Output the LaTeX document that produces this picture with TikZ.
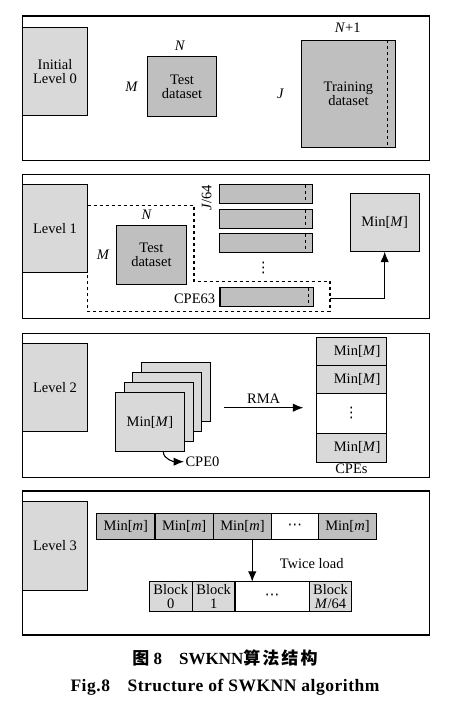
\documentclass[tikz,border=0pt]{standalone}
\usepackage{fontspec}
\setmainfont{Liberation Serif}
\newfontfamily\cjk{Noto Sans CJK SC}[LetterSpace=12]
\newfontfamily\dotsfont{DejaVu Sans}
\usetikzlibrary{arrows.meta,positioning}
\definecolor{lvlgray}{HTML}{D9D9D9}
\definecolor{datagray}{HTML}{BFBFBF}

\begin{document}
\begin{tikzpicture}[x=1pt, y=-1pt, line width=1.1pt,
  font=\fontsize{14.5}{14}\selectfont,
  panel/.style={draw, line width=1.1pt},
  lvlbox/.style={draw, fill=lvlgray, minimum width=65.4pt, minimum height=88.4pt, align=center, inner sep=0pt, outer sep=0pt},
  datbox/.style={draw, fill=datagray, align=center, inner sep=0pt, outer sep=0pt},
  bar/.style={draw, fill=datagray, minimum width=93.4pt, minimum height=19pt, inner sep=0pt, outer sep=0pt},
  cell/.style={draw, fill=lvlgray, outer sep=0pt, inner sep=0pt, align=center},
  lbl/.style={inner sep=1pt},
  arrow/.style={-{Latex[length=10.5pt,width=8.5pt]}, line width=1.1pt}
]
\useasboundingbox (0,0) rectangle (455,704);

% Level 0
\draw[panel] (22.3,16) rectangle (429.3,160.7);
\node[lvlbox, anchor=north west] (lv0) at (22.3,27.3) {Initial\\Level 0};
\node[datbox, minimum width=69.4pt, minimum height=59.3pt] (test0) at (182,86.4) {Test\\dataset};
\node[lbl] (n0) at (180,46) {\textit{N}};
\node[lbl] (m0) at (131.7,87) {\textit{M}};
\node[datbox, minimum width=93.3pt, minimum height=107pt] (train) at (348.4,93.8) {Training\\dataset};
\draw[dashed] ([xshift=-7.3pt]train.north east) -- ([xshift=-7.3pt]train.south east);
\node[lbl] (n1) at (347.7,27.3) {\textit{N}+1};
\node[lbl] (j0) at (280.7,94.3) {\textit{J}};

% Level 1
\draw[panel] (22.3,174.3) rectangle (429.3,318.3);
\node[lvlbox, anchor=north west] (lv1) at (22.3,184.3) {Level 1};
\draw[dashed] (87.7,205.7) -- (194,205.7) -- (194,281.7) -- (330,281.7) -- (330,311.7) -- (87.7,311.7) -- cycle;
\node[lbl] (n2) at (146.7,215) {\textit{N}};
\node[lbl] (m2) at (103.3,254.3) {\textit{M}};
\node[datbox, minimum width=69.3pt, minimum height=58.6pt] (test1) at (151.4,255) {Test\\dataset};
\foreach \i/\y in {1/194.3, 2/219.2, 3/243.2} {
  \node[bar] (b\i) at (266,\y) {};
  \draw[dashed] ([xshift=-7pt]b\i.north east) -- ([xshift=-7pt]b\i.south east);
}
\node[bar] (b63) at (266.7,297) {};
\draw[dashed] ([xshift=-5pt]b63.north east) -- ([xshift=-5pt]b63.south east);
\node[lbl] (dots1) at (263.3,268.3) {\dotsfont ⋮};
\node[lbl, rotate=90] (j1) at (206.7,198) {\textit{J}/64};
\node[lbl, anchor=east] (cpe63) at (216.7,298.3) {CPE63};
\node[cell, minimum width=69.3pt, minimum height=58.4pt] (minM) at (384.7,222.5) {Min[\textit{M}]};
\coordinate (reg) at (330,298.3);
\draw[arrow] (reg) -| (minM);

% Level 2
\draw[panel] (22.3,333.3) rectangle (429.3,477.7);
\node[lvlbox, anchor=north west] (lv2) at (22.3,343.3) {Level 2};
\foreach \k in {3,2,1}
  \node[cell, minimum width=69pt, minimum height=59pt] (s\k) at (150+8.7*\k,422.2-10*\k) {};
\node[cell, minimum width=69pt, minimum height=59pt] (s0) at (150,422.2) {Min[\textit{M}]};
\node[lbl, anchor=west] (cpe0) at (184,461.7) {CPE0};
\draw[arrow] ([xshift=13.3pt]s0.south) .. controls +(0,8) and +(-9,0) .. (cpe0.west);
\coordinate (rmaS) at (224,407.7);
\coordinate (rmaE) at (303.3,407.7);
\draw[arrow] (rmaS) -- node[lbl, above=3pt] (rma) {RMA} (rmaE);
\node[cell, minimum width=69.3pt, minimum height=27.3pt, text width=58pt, align=right] (c1) at (351.4,351.4) {Min[\textit{M}]};
\node[cell, minimum width=69.3pt, minimum height=28.3pt, text width=58pt, align=right, below=0pt of c1] (c2) {Min[\textit{M}]};
\node[cell, fill=white, minimum width=69.3pt, minimum height=40pt, below=0pt of c2] (c3) {\dotsfont ⋮};
\node[cell, minimum width=69.3pt, minimum height=29pt, text width=58pt, align=right, below=0pt of c3] (c4) {Min[\textit{M}]};
\node[lbl, below=0pt of c4] (cpes) {CPEs};

% Level 3
\draw[panel] (22.3,491) rectangle (429.3,635);
\node[lvlbox, anchor=north west] (lv3) at (22.3,501.7) {Level 3};
\node[cell, fill=datagray, minimum width=58.3pt, minimum height=26pt, anchor=west] (m1) at (96.7,526.3) {Min[\textit{m}]};
\node[cell, fill=datagray, minimum width=58.3pt, minimum height=26pt, right=0pt of m1] (m2) {Min[\textit{m}]};
\node[cell, fill=datagray, minimum width=58.3pt, minimum height=26pt, right=0pt of m2] (m3) {Min[\textit{m}]};
\node[cell, fill=white, minimum width=46.7pt, minimum height=26pt, right=0pt of m3] (m4) {\dotsfont ⋯};
\node[cell, fill=datagray, minimum width=58.3pt, minimum height=26pt, right=0pt of m4] (m5) {Min[\textit{m}]};
\node[cell, minimum width=43pt, minimum height=29.3pt, anchor=west] (bk1) at (149.3,596.4) {Block\\0};
\node[cell, minimum width=42.7pt, minimum height=29.3pt, right=0pt of bk1] (bk2) {Block\\1};
\node[cell, fill=white, minimum width=74.3pt, minimum height=29.3pt, right=0pt of bk2] (bk3) {\dotsfont ⋯};
\node[cell, minimum width=42.4pt, minimum height=29.3pt, right=0pt of bk3] (bk4) {Block\\\textit{M}/64};
\coordinate (ld) at ([xshift=9.8pt]m3.south);
\draw[arrow] (ld) -- (ld |- bk3.north);
\node[lbl] (tw) at (311.7,563.3) {Twice load};

% caption
\node (cap1) at (225,658.3) {\fontsize{17}{17}\selectfont\bfseries{\cjk 图}~8\quad SWKNN{\cjk 算法结构}};
\node (cap2) at (225,687.3) {\fontsize{17.5}{17}\selectfont\bfseries\addfontfeatures{LetterSpace=3}Fig.8\quad Structure of SWKNN algorithm};
\end{tikzpicture}
\end{document}
